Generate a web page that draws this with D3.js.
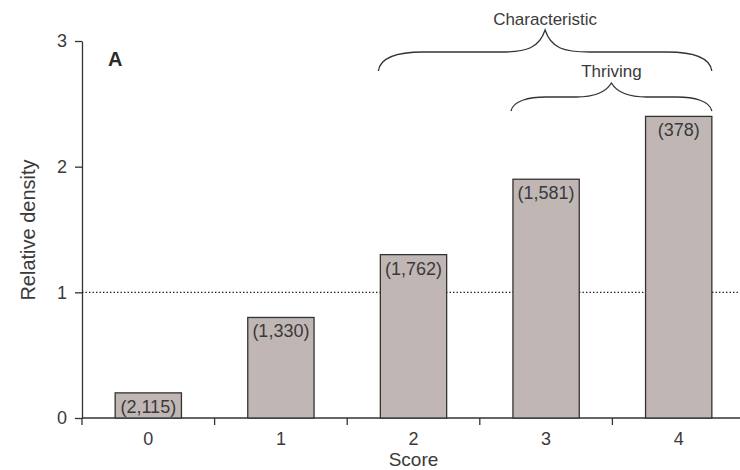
<!DOCTYPE html>
<html>
<head>
<meta charset="utf-8">
<script src="https://cdn.jsdelivr.net/npm/d3@7"></script>
<style>
  html, body { margin: 0; padding: 0; background: #fff; }
  svg { display: block; font-family: "Liberation Sans", Arial, sans-serif; }
</style>
</head>
<body>
<svg id="chart" width="740" height="470"></svg>
<script>
// Relative density by score, with sample sizes shown on each bar
const scores = ["0", "1", "2", "3", "4"];
const density = [0.2, 0.8, 1.3, 1.9, 2.4];
const counts = ["(2,115)", "(1,330)", "(1,762)", "(1,581)", "(378)"];
const yTicks = [0, 1, 2, 3];
// Brackets above the bars: label, first and last score covered
const groups = [
  { label: "Characteristic", from: "2", to: "4", level: 0 },
  { label: "Thriving", from: "3", to: "4", level: 1 }
];

const svg = d3.select("#chart");
const plotLeft = 82, plotRight = 745, plotTop = 41, plotBottom = 418;
const ink = "#3a3a3a";

const x = d3.scaleBand().domain(scores).range([plotLeft, plotRight]).paddingInner(0.5).paddingOuter(0.25);
const y = d3.scaleLinear().domain([0, 3]).range([plotBottom, plotTop]);

// x axis: ticks sit between categories
const band = x.step();
const xAxisG = svg.append("g");
xAxisG.append("line")
  .attr("x1", plotLeft).attr("x2", 740).attr("y1", plotBottom).attr("y2", plotBottom)
  .attr("stroke", "#333").attr("stroke-width", 1.3);
xAxisG.selectAll("line.tk")
  .data(d3.range(scores.length + 1))
  .join("line").attr("class", "tk")
  .attr("x1", i => plotLeft + i * band).attr("x2", i => plotLeft + i * band)
  .attr("y1", plotBottom).attr("y2", plotBottom + 7)
  .attr("stroke", "#333").attr("stroke-width", 1.3);
xAxisG.selectAll("text")
  .data(scores)
  .join("text")
  .attr("x", d => x(d) + x.bandwidth() / 2)
  .attr("y", plotBottom + 27)
  .attr("text-anchor", "middle")
  .attr("font-size", 18).attr("fill", ink)
  .text(d => d);

// y axis
const yAxis = d3.axisLeft(y).tickValues(yTicks).tickSize(7).tickSizeOuter(0).tickFormat(d3.format("d"));
const yG = svg.append("g").attr("transform", `translate(${plotLeft},0)`).call(yAxis);
yG.select(".domain").attr("stroke", "#333").attr("stroke-width", 1.3);
yG.selectAll(".tick line").attr("stroke", "#333").attr("stroke-width", 1.3);
yG.selectAll(".tick text").attr("font-size", 18).attr("fill", ink)
  .attr("font-family", "Liberation Sans, Arial, sans-serif").attr("dx", "-5");

// reference line at relative density 1
svg.append("line")
  .attr("x1", plotLeft).attr("x2", 740)
  .attr("y1", y(1)).attr("y2", y(1))
  .attr("stroke", "#1a1a1a").attr("stroke-width", 1.4)
  .attr("stroke-dasharray", "1.4,2.1");

// bars
svg.append("g").selectAll("rect")
  .data(density)
  .join("rect")
  .attr("x", (d, i) => x(scores[i]))
  .attr("y", d => y(d))
  .attr("width", x.bandwidth())
  .attr("height", d => y(0) - y(d))
  .attr("fill", "#c0b7b5")
  .attr("stroke", "#333").attr("stroke-width", 1.3);

// sample-size labels inside bar tops
svg.append("g").selectAll("text")
  .data(density)
  .join("text")
  .attr("x", (d, i) => x(scores[i]) + x.bandwidth() / 2)
  .attr("y", d => y(d) + 20)
  .attr("text-anchor", "middle")
  .attr("font-size", 18).attr("fill", ink)
  .text((d, i) => counts[i]);

// panel letter
svg.append("text")
  .attr("x", 108).attr("y", 66)
  .attr("font-size", 20).attr("font-weight", "bold").attr("fill", "#2a2a2a")
  .text("A");

// axis titles
svg.append("text")
  .attr("x", x("2") + x.bandwidth() / 2).attr("y", 466)
  .attr("text-anchor", "middle").attr("font-size", 19).attr("fill", ink)
  .text("Score");
svg.append("text")
  .attr("transform", `translate(35,230) rotate(-90)`)
  .attr("text-anchor", "middle").attr("font-size", 20).attr("fill", ink)
  .text("Relative density");

// curly brace opening downward, tip pointing up at the centre
function brace(x1, x2, yEnd, yMid, yTip) {
  const xm = (x1 + x2) / 2;
  const c = Math.min(45, (xm - x1) * 0.35);
  return [
    `M${x1},${yEnd}`,
    `C${x1 + 2},${yMid + 4} ${x1 + c * 0.5},${yMid} ${x1 + c},${yMid}`,
    `L${xm - c},${yMid}`,
    `C${xm - 18},${yMid} ${xm - 6},${yMid - 4} ${xm},${yTip}`,
    `C${xm + 6},${yMid - 4} ${xm + 18},${yMid} ${xm + c},${yMid}`,
    `L${x2 - c},${yMid}`,
    `C${x2 - c * 0.5},${yMid} ${x2 - 2},${yMid + 4} ${x2},${yEnd}`
  ].join(" ");
}

const braceLayout = [
  { yEnd: 71, yMid: 52, yTip: 30, textY: 25 },
  { yEnd: 111, yMid: 97, yTip: 83, textY: 77 }
];
groups.forEach(g => {
  const L = braceLayout[g.level];
  const x1 = x(g.from) - 2;
  const x2 = x(g.to) + x.bandwidth();
  svg.append("path")
    .attr("d", brace(x1, x2, L.yEnd, L.yMid, L.yTip))
    .attr("fill", "none").attr("stroke", "#333").attr("stroke-width", 1.3);
  svg.append("text")
    .attr("x", (x1 + x2) / 2).attr("y", L.textY)
    .attr("text-anchor", "middle").attr("font-size", 17).attr("fill", ink)
    .text(g.label);
});
</script>
</body>
</html>
